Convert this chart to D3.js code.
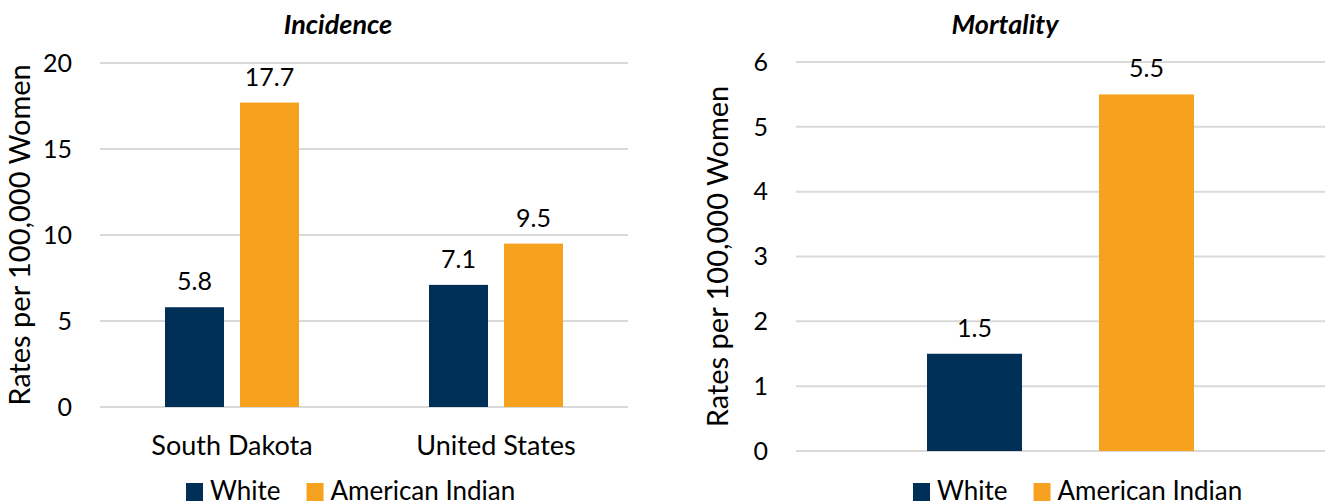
<!DOCTYPE html>
<html>
<head>
<meta charset="utf-8">
<script src="https://cdn.jsdelivr.net/npm/d3@7"></script>
<style>
	body { margin: 0; background: #fff; }
	svg text { font-family: Lato, "Open Sans", sans-serif; fill: #000; }
</style>
</head>
<body>
<div id="chart"></div>
<script>
// data
const seriesNames = ["White", "American Indian"];
const seriesColors = ["#003057", "#F7A21E"];

const incidenceCategories = ["South Dakota", "United States"];
const incidenceWhite = [5.8, 7.1];
const incidenceAmericanIndian = [17.7, 9.5];
const incidenceTicks = [0, 5, 10, 15, 20];

const mortalityCategories = [""];
const mortalityWhite = [1.5];
const mortalityAmericanIndian = [5.5];
const mortalityTicks = [0, 1, 2, 3, 4, 5, 6];

const svg = d3
	.select("#chart")
	.append("svg")
	.attr("width", 1333)
	.attr("height", 501);

function drawPanel(opts) {
	const { title, categories, white, indian, ticks, x0, x1, yTop, yBottom, barWidth, barGap, titleX, axisTitleX, legendX } = opts;

	const g = svg.append("g");

	const x = d3.scaleBand().domain(categories).range([x0, x1]);
	const y = d3
		.scaleLinear()
		.domain([0, d3.max(ticks)])
		.range([yBottom, yTop]);

	// gridlines
	g.selectAll(".grid")
		.data(ticks)
		.enter()
		.append("line")
		.attr("x1", x0)
		.attr("x2", x1)
		.attr("y1", d => y(d))
		.attr("y2", d => y(d))
		.attr("stroke", "#d9d9d9")
		.attr("stroke-width", 2);

	// tick labels
	g.selectAll(".tick-label")
		.data(ticks)
		.enter()
		.append("text")
		.attr("x", x0 - 28)
		.attr("y", d => y(d))
		.attr("dy", "0.35em")
		.attr("text-anchor", "end")
		.attr("font-size", 25)
		.text(d => d);

	const rows = categories.map((c, i) => ({ category: c, values: [white[i], indian[i]] }));

	const sub = d3
		.scaleBand()
		.domain([0, 1])
		.range([-(barWidth + barGap / 2), barWidth + barGap / 2])
		.paddingInner(barGap / (barWidth + barGap));

	const groups = g
		.selectAll(".cat")
		.data(rows)
		.enter()
		.append("g")
		.attr("transform", d => `translate(${x(d.category) + x.bandwidth() / 2},0)`);

	const bars = groups
		.selectAll(".bar")
		.data(d => d.values.map((v, i) => ({ v, i })))
		.enter();

	bars.append("rect")
		.attr("x", d => sub(d.i))
		.attr("width", sub.bandwidth())
		.attr("y", d => y(d.v))
		.attr("height", d => y(0) - y(d.v))
		.attr("fill", d => seriesColors[d.i]);

	bars.append("text")
		.attr("x", d => sub(d.i) + sub.bandwidth() / 2)
		.attr("y", d => y(d.v) - 17)
		.attr("text-anchor", "middle")
		.attr("font-size", 25)
		.text(d => d.v.toFixed(1));

	// category labels
	groups
		.append("text")
		.attr("y", yBottom + 48)
		.attr("text-anchor", "middle")
		.attr("font-size", 27)
		.text(d => d.category);

	// title
	g.append("text")
		.attr("x", titleX)
		.attr("y", 34)
		.attr("text-anchor", "middle")
		.attr("font-size", 27)
		.attr("font-weight", "bold")
		.attr("font-style", "italic")
		.text(title);

	// axis title
	g.append("text")
		.attr("transform", `translate(${axisTitleX},${(yTop + yBottom) / 2}) rotate(-90)`)
		.attr("text-anchor", "middle")
		.attr("font-size", 29)
		.text("Rates per 100,000 Women");

	// legend
	const legend = g.append("g").attr("transform", `translate(${legendX},0)`);
	let lx = 0;
	seriesNames.forEach((name, i) => {
		legend.append("rect")
			.attr("x", lx)
			.attr("y", 483)
			.attr("width", 17)
			.attr("height", 18)
			.attr("fill", seriesColors[i]);
		const t = legend.append("text")
			.attr("x", lx + 24)
			.attr("y", 500)
			.attr("font-size", 26)
			.text(name);
		lx += 24 + t.node().getComputedTextLength() + 26;
	});
}

drawPanel({
	title: "Incidence",
	categories: incidenceCategories,
	white: incidenceWhite,
	indian: incidenceAmericanIndian,
	ticks: incidenceTicks,
	x0: 100,
	x1: 628,
	yTop: 63,
	yBottom: 407,
	barWidth: 59,
	barGap: 16,
	titleX: 338,
	axisTitleX: 30,
	legendX: 186
});

drawPanel({
	title: "Mortality",
	categories: mortalityCategories,
	white: mortalityWhite,
	indian: mortalityAmericanIndian,
	ticks: mortalityTicks,
	x0: 796,
	x1: 1325,
	yTop: 62,
	yBottom: 451,
	barWidth: 95,
	barGap: 77,
	titleX: 1005,
	axisTitleX: 728,
	legendX: 913
});
</script>
</body>
</html>
